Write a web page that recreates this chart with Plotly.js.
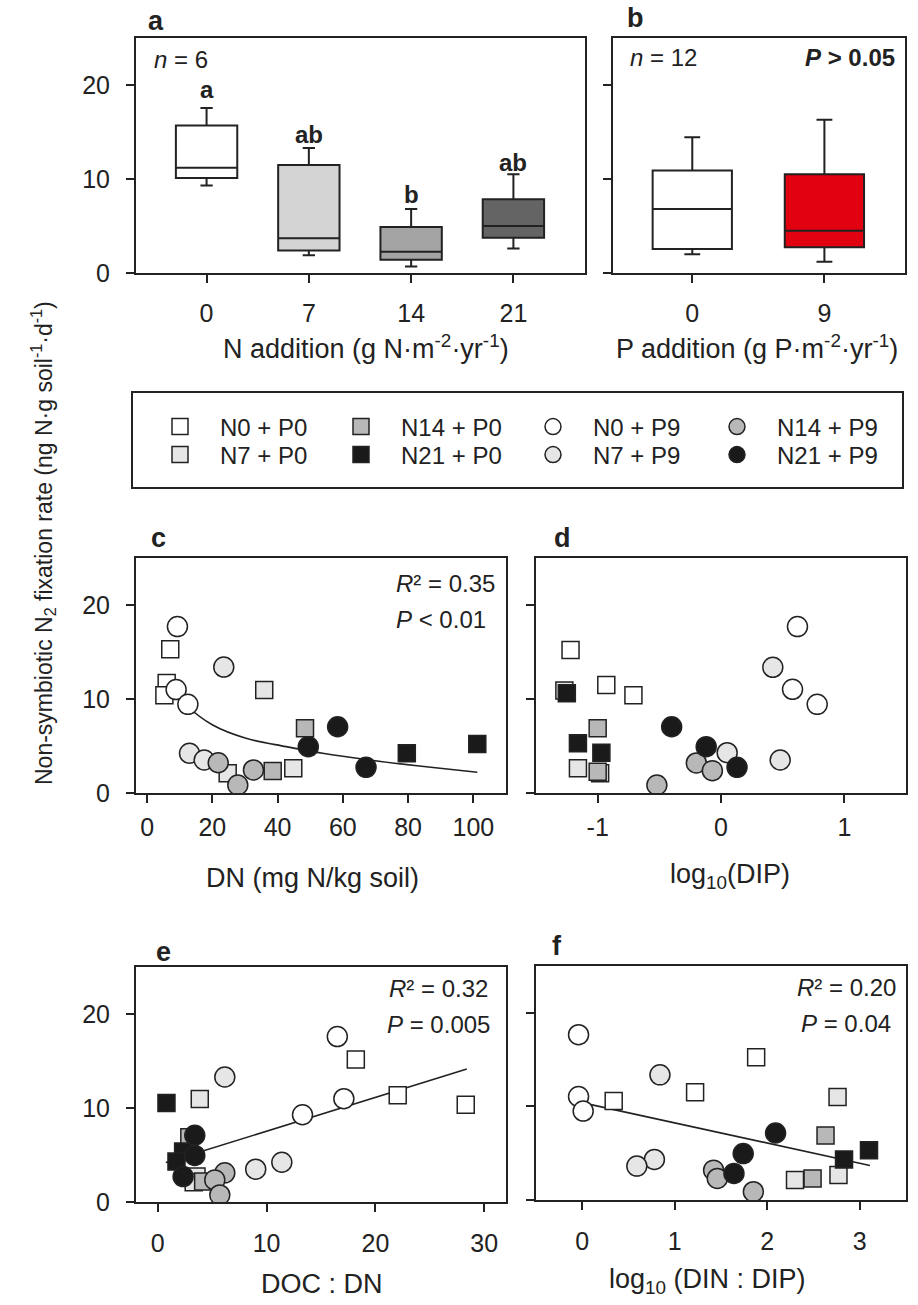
<!DOCTYPE html>
<html>
<head>
<meta charset="utf-8">
<script src="https://cdn.plot.ly/plotly-3.0.1.min.js"></script>
<style>html,body{margin:0;padding:0;background:#fff;}#chart{width:918px;height:1305px;}</style>
</head>
<body>
<div id="chart"></div>
<script>
// ---------- DATA ----------
const nLevels = ['0', '7', '14', '21'];
const nLow = [9.3, 1.9, 0.7, 2.6];
const nQ1 = [10.1, 2.4, 1.4, 3.75];
const nMed = [11.2, 3.7, 2.25, 5.0];
const nQ3 = [15.7, 11.5, 4.9, 7.85];
const nUp = [17.55, 13.3, 6.8, 10.5];
const nLetters = ['a', 'ab', 'b', 'ab'];
const nLetterY = [19.5, 14.7, 8.3, 11.8];

const pLevels = ['0', '9'];
const pLow = [2.0, 1.2];
const pQ1 = [2.55, 2.75];
const pMed = [6.8, 4.5];
const pQ3 = [10.9, 10.5];
const pUp = [14.45, 16.3];

const groups = ['N0 + P0', 'N7 + P0', 'N14 + P0', 'N21 + P0', 'N0 + P9', 'N7 + P9', 'N14 + P9', 'N21 + P9'];

// panel c: DN
const dnX = [[7.1, 6.0, 5.3], [35.9, 24.7, 44.8], [48.4, 38.5], [79.6, 101.2],
             [9.3, 8.9, 12.5], [23.5, 13.0, 17.5], [21.8, 32.6, 27.8], [58.4, 49.4, 67.1]];
const dnY = [[15.3, 11.7, 10.4], [10.96, 2.1, 2.62], [6.88, 2.34], [4.22, 5.21],
             [17.7, 11.0, 9.43], [13.4, 4.22, 3.51], [3.22, 2.45, 0.85], [7.05, 4.93, 2.73]];
const dnFitX = [5.3, 11.9, 20.1, 30.3, 42.6, 53.8, 68.1, 83.4, 101.2];
const dnFitY = [11.95, 9.36, 7.23, 5.82, 4.93, 4.22, 3.51, 2.87, 2.2];

// panel d: log10(DIP)
const dipX = [[-1.22, -0.93, -0.71], [-1.27, -1.16, -0.98], [-1.0, -1.0], [-1.25, -1.16, -0.97],
              [0.62, 0.58, 0.78], [0.42, 0.05, 0.48], [-0.20, -0.07, -0.52], [-0.40, -0.12, 0.13]];
const dipY = [[15.2, 11.5, 10.4], [10.9, 2.63, 2.1], [6.88, 2.27], [10.6, 5.29, 4.29],
              [17.7, 11.03, 9.43], [13.37, 4.29, 3.51], [3.2, 2.38, 0.85], [7.05, 4.93, 2.73]];

// panel e: DOC:DN
const docX = [[18.2, 22.05, 28.3], [3.86, 3.56, 3.3], [2.9, 4.17], [0.8, 2.33, 1.72],
              [16.5, 17.1, 13.3], [6.16, 11.4, 9.0], [6.16, 5.24, 5.7], [3.4, 3.4, 2.33]];
const docY = [[15.15, 11.35, 10.35], [10.96, 2.7, 2.1], [6.9, 2.17], [10.53, 5.37, 4.3],
              [17.6, 10.99, 9.28], [13.3, 4.23, 3.49], [3.1, 2.35, 0.75], [7.1, 4.95, 2.7]];
const docFitX = [0.74, 28.4];
const docFitY = [4.2, 14.16];

// panel f: log10(DIN:DIP)
const dinX = [[1.88, 1.22, 0.34], [2.76, 2.30, 2.77], [2.63, 2.49], [3.1, 2.83],
              [-0.04, -0.04, 0.01], [0.84, 0.78, 0.59], [1.42, 1.46, 1.85], [2.09, 1.74, 1.64]];
const dinY = [[15.25, 11.5, 10.57], [11.0, 2.13, 2.66], [6.9, 2.3], [5.32, 4.33],
              [17.66, 11.06, 9.5], [13.37, 4.33, 3.62], [3.19, 2.3, 0.89], [7.16, 4.96, 2.84]];
const dinFitX = [0.02, 3.11];
const dinFitY = [10.35, 3.69];

const yTicks = [0, 10, 20];
const dnTicks = [0, 20, 40, 60, 80, 100];
const dipTicks = [-1, 0, 1];
const dipTickText = ['-1', '0', '1'];
const docTicks = [0, 10, 20, 30];
const dinTicks = [0, 1, 2, 3];

// ---------- STYLE ----------
const FONT = 'Liberation Sans, Arial, Helvetica, sans-serif';
const INK = '#222222';
const W = 918, H = 1305;
const px = v => v / W;
const py = v => 1 - v / H;

const nBoxFill = ['#ffffff', '#d4d4d4', '#a4a4a4', '#646464'];
const pBoxFill = ['#ffffff', '#e1000f'];
const groupFill = ['#ffffff', '#e6e6e6', '#b8b8b8', '#1a1a1a', '#ffffff', '#e6e6e6', '#b8b8b8', '#1a1a1a'];
const groupSymbol = ['square', 'square', 'square', 'square', 'circle', 'circle', 'circle', 'circle'];
const groupSize = [17, 17, 17, 17, 20, 20, 20, 20];
const legendRow = ['legend', 'legend2', 'legend', 'legend2', 'legend', 'legend2', 'legend', 'legend2'];
const legendRankArr = [1, 1, 2, 2, 3, 3, 4, 4];
const legendW = [136, 136, 147, 147, 139, 139, 140, 140];

const traces = [];

// boxes panel a
nLevels.forEach((lv, i) => {
  traces.push({
    type: 'box', x: [lv], q1: [nQ1[i]], median: [nMed[i]], q3: [nQ3[i]],
    lowerfence: [nLow[i]], upperfence: [nUp[i]],
    xaxis: 'x', yaxis: 'y', width: 0.6, whiskerwidth: 0.2,
    fillcolor: nBoxFill[i], line: {color: INK, width: 2},
    boxpoints: false, showlegend: false, hoverinfo: 'skip'
  });
});
// boxes panel b
pLevels.forEach((lv, i) => {
  traces.push({
    type: 'box', x: [lv], q1: [pQ1[i]], median: [pMed[i]], q3: [pQ3[i]],
    lowerfence: [pLow[i]], upperfence: [pUp[i]],
    xaxis: 'x2', yaxis: 'y2', width: 0.6, whiskerwidth: 0.2,
    fillcolor: pBoxFill[i], line: {color: INK, width: 2},
    boxpoints: false, showlegend: false, hoverinfo: 'skip'
  });
});

// fit lines
traces.push({type: 'scatter', mode: 'lines', x: dnFitX, y: dnFitY, xaxis: 'x3', yaxis: 'y3',
  line: {color: INK, width: 1.6, shape: 'spline', smoothing: 1}, showlegend: false, hoverinfo: 'skip'});
traces.push({type: 'scatter', mode: 'lines', x: docFitX, y: docFitY, xaxis: 'x5', yaxis: 'y5',
  line: {color: INK, width: 1.6}, showlegend: false, hoverinfo: 'skip'});
traces.push({type: 'scatter', mode: 'lines', x: dinFitX, y: dinFitY, xaxis: 'x6', yaxis: 'y6',
  line: {color: INK, width: 1.6}, showlegend: false, hoverinfo: 'skip'});

const panels = [
  {xs: dnX, ys: dnY, xa: 'x3', ya: 'y3', legend: true},
  {xs: dipX, ys: dipY, xa: 'x4', ya: 'y4', legend: false},
  {xs: docX, ys: docY, xa: 'x5', ya: 'y5', legend: false},
  {xs: dinX, ys: dinY, xa: 'x6', ya: 'y6', legend: false}
];
panels.forEach(p => {
  groups.forEach((g, i) => {
    const t = {
      type: 'scatter', mode: 'markers', x: p.xs[i], y: p.ys[i],
      xaxis: p.xa, yaxis: p.ya, name: '   ' + g,
      marker: {symbol: groupSymbol[i], size: groupSize[i], color: groupFill[i],
               line: {color: INK, width: 1.5}},
      showlegend: p.legend, hoverinfo: 'skip', cliponaxis: true
    };
    if (p.legend) {
      t.legend = legendRow[i];
      t.legendrank = legendRankArr[i];
      t.legendwidth = legendW[i];
    }
    traces.push(t);
  });
});

function axisBase(extra) {
  return Object.assign({
    showline: true, linewidth: 2, linecolor: INK, mirror: true,
    ticks: 'outside', ticklen: 8, tickwidth: 2, tickcolor: INK,
    showgrid: false, zeroline: false, fixedrange: true,
    tickfont: {family: FONT, size: 25, color: INK}
  }, extra);
}

const yA = [py(273), py(38)];
const yC = [py(793), py(558)];
const yE = [py(1202), py(967)];
const yF = [py(1200), py(966)];

const layout = {
  width: W, height: H, autosize: false,
  margin: {l: 0, r: 0, t: 0, b: 0, pad: 0},
  paper_bgcolor: '#ffffff', plot_bgcolor: 'rgba(0,0,0,0)',
  font: {family: FONT, color: INK},
  showlegend: true,
  xaxis: axisBase({domain: [px(136), px(585)], anchor: 'y', type: 'category',
    categoryorder: 'array', categoryarray: nLevels, range: [-0.69, 3.7], ticklabelstandoff: 9}),
  yaxis: axisBase({domain: yA, anchor: 'x', range: [0, 25], tickvals: yTicks, ticklabelstandoff: 11}),
  xaxis2: axisBase({domain: [px(613), px(905)], anchor: 'y2', type: 'category',
    categoryorder: 'array', categoryarray: pLevels, range: [-0.6, 1.61], ticklabelstandoff: 9}),
  yaxis2: axisBase({domain: yA, anchor: 'x2', range: [0, 25], tickvals: yTicks, showticklabels: false}),
  xaxis3: axisBase({domain: [px(136), px(506)], anchor: 'y3', range: [-3.4, 110], tickvals: dnTicks, ticklabelstandoff: 3}),
  yaxis3: axisBase({domain: yC, anchor: 'x3', range: [0, 25], tickvals: yTicks, ticklabelstandoff: 11}),
  xaxis4: axisBase({domain: [px(536), px(906)], anchor: 'y4', range: [-1.5, 1.5], tickvals: dipTicks, ticktext: dipTickText, ticklabelstandoff: 3}),
  yaxis4: axisBase({domain: yC, anchor: 'x4', range: [0, 25], tickvals: yTicks, showticklabels: false}),
  xaxis5: axisBase({domain: [px(136), px(506)], anchor: 'y5', range: [-2, 32], tickvals: docTicks, ticklabelstandoff: 10}),
  yaxis5: axisBase({domain: yE, anchor: 'x5', range: [0, 25], tickvals: yTicks, ticklabelstandoff: 11}),
  xaxis6: axisBase({domain: [px(536), px(906)], anchor: 'y6', range: [-0.5, 3.5], tickvals: dinTicks, ticklabelstandoff: 10}),
  yaxis6: axisBase({domain: yF, anchor: 'x6', range: [0, 25], tickvals: yTicks, showticklabels: false}),
  legend: {orientation: 'h', x: px(160), xanchor: 'left', y: py(427), yanchor: 'middle',
    bgcolor: 'rgba(0,0,0,0)', borderwidth: 0, font: {family: FONT, size: 24, color: INK},
    itemclick: false, itemdoubleclick: false, entrywidthmode: 'pixels'},
  legend2: {orientation: 'h', x: px(160), xanchor: 'left', y: py(455), yanchor: 'middle',
    bgcolor: 'rgba(0,0,0,0)', borderwidth: 0, font: {family: FONT, size: 24, color: INK},
    itemclick: false, itemdoubleclick: false, entrywidthmode: 'pixels'},
  shapes: [
    {type: 'rect', xref: 'paper', yref: 'paper', x0: px(132), x1: px(903), y0: py(488), y1: py(392),
     line: {color: INK, width: 2}, fillcolor: 'rgba(0,0,0,0)'}
  ],
  annotations: []
};

const A = layout.annotations;
function note(text, x, y, opts) {
  A.push(Object.assign({text: text, x: px(x), y: py(y), xref: 'paper', yref: 'paper',
    showarrow: false, xanchor: 'center', yanchor: 'middle',
    font: {family: FONT, size: 24, color: INK}}, opts || {}));
}
// panel letters
[['a', 156, 21], ['b', 635, 18], ['c', 158, 538], ['d', 562, 538], ['e', 163, 952], ['f', 557, 946]]
  .forEach(l => note('<b>' + l[0] + '</b>', l[1], l[2], {font: {family: FONT, size: 27, color: INK}}));
// significance letters over boxes (x given as category position index)
nLevels.forEach((lv, i) => {
  A.push({text: '<b>' + nLetters[i] + '</b>', x: i, y: nLetterY[i], xref: 'x', yref: 'y',
    showarrow: false, xanchor: 'center', yanchor: 'middle', font: {family: FONT, size: 24, color: INK}});
});
note('<i>n</i> = 6', 152, 60, {xanchor: 'left'});
note('<i>n</i> = 12', 628, 57, {xanchor: 'left'});
note('<b><i>P</i> &gt; 0.05</b>', 897, 57, {xanchor: 'right'});
note('<i>R</i>² = 0.35', 497, 583, {xanchor: 'right'});
note('<i>P</i> &lt; 0.01', 488, 619, {xanchor: 'right'});
note('<i>R</i>² = 0.32', 490, 988, {xanchor: 'right'});
note('<i>P</i> = 0.005', 492, 1024, {xanchor: 'right'});
note('<i>R</i>² = 0.20', 898, 987, {xanchor: 'right'});
note('<i>P</i> = 0.04', 893, 1023, {xanchor: 'right'});
// axis titles
const TF = {family: FONT, size: 27, color: INK};
note('N addition (g N·m<sup>-2</sup>·yr<sup>-1</sup>)', 366, 347, {font: TF});
note('P addition (g P·m<sup>-2</sup>·yr<sup>-1</sup>)', 757, 347, {font: TF});
note('DN (mg N/kg soil)', 312, 878, {font: TF});
note('log<sub>10</sub>(DIP)', 730, 876, {font: TF});
note('DOC : DN', 322, 1284, {font: TF});
note('log<sub>10</sub> (DIN : DIP)', 707, 1281, {font: TF});
note('Non-symbiotic N<sub>2</sub> fixation rate (ng N·g soil<sup>-1</sup>·d<sup>-1</sup>)', 43, 543,
  {textangle: -90, font: {family: FONT, size: 23, color: INK}});

Plotly.newPlot('chart', traces, layout, {staticPlot: true, displayModeBar: false});
</script>
</body>
</html>
